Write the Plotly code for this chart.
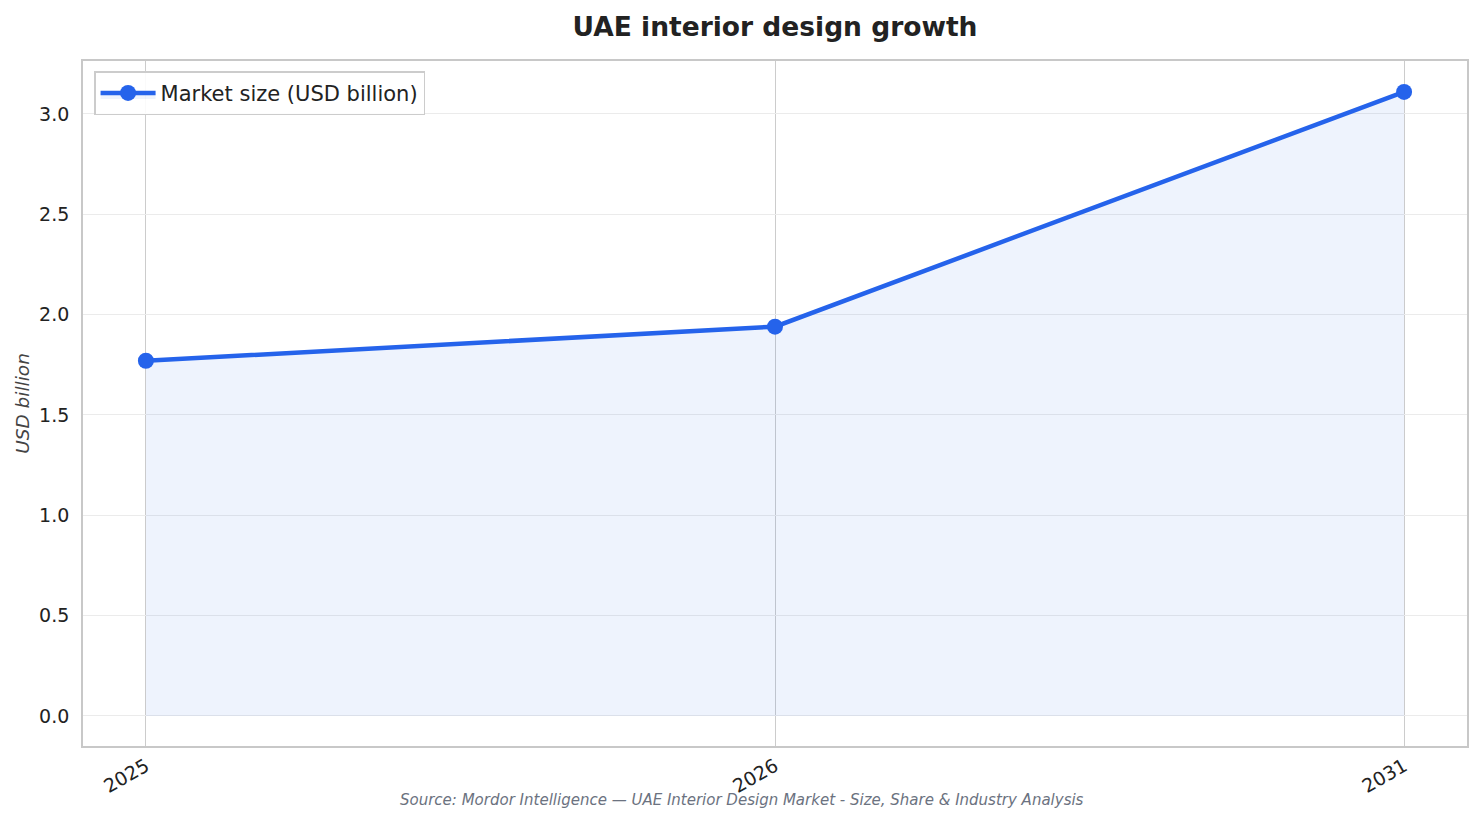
import plotly.graph_objects as go

# Market size data
years = ["2025", "2026", "2031"]
market_size = [1.77, 1.94, 3.11]
y_ticks = [0.0, 0.5, 1.0, 1.5, 2.0, 2.5, 3.0]

FONT = "DejaVu Sans"
BLUE = "#2563EB"

fig = go.Figure()
fig.add_trace(
    go.Scatter(
        x=years,
        y=market_size,
        name="Market size (USD billion)",
        mode="lines+markers",
        line=dict(color=BLUE, width=4.5),
        marker=dict(color=BLUE, size=16),
        fill="tozeroy",
        fillcolor="rgba(37,99,235,0.08)",
    )
)

# page body adds an 8px margin, so the figure is a bit smaller than the window
fig.update_layout(
    width=1466,
    height=808,
    paper_bgcolor="white",
    plot_bgcolor="white",
    margin=dict(l=75, r=5, t=53, b=70),
    font=dict(family=FONT, size=19, color="#222222"),
    title=dict(
        text="<b>UAE interior design growth</b>",
        x=0.5,
        xref="paper",
        xanchor="center",
        y=0.9765,
        yanchor="middle",
        font=dict(family=FONT, size=26.5, color="#222222"),
    ),
    showlegend=True,
    legend=dict(
        x=0.008,
        y=0.985,
        xanchor="left",
        yanchor="top",
        itemwidth=55,
        bgcolor="rgba(255,255,255,0.9)",
        bordercolor="#cccccc",
        borderwidth=1.5,
        font=dict(family=FONT, size=21, color="#222222"),
    ),
    annotations=[
        dict(
            text="<i>Source: Mordor Intelligence — UAE Interior Design Market - Size, Share &amp; Industry Analysis</i>",
            x=0.4758,
            y=-0.0788,
            xref="paper",
            yref="paper",
            xanchor="center",
            yanchor="middle",
            showarrow=False,
            font=dict(family=FONT, size=15, color="#6b7280"),
        )
    ],
)

fig.update_xaxes(
    type="category",
    range=[-0.1, 2.1],
    tickangle=-30,
    showgrid=True,
    gridcolor="#cccccc",
    gridwidth=1.2,
    showline=True,
    linecolor="#c8c8c8",
    linewidth=1.8,
    mirror=True,
    ticks="",
    tickfont=dict(family=FONT, size=19, color="#222222"),
)

fig.update_yaxes(
    range=[-0.15, 3.264],
    tickvals=y_ticks,
    ticktext=[f"{v:.1f}" for v in y_ticks],
    showgrid=True,
    gridcolor="#ebebeb",
    gridwidth=1.2,
    zeroline=False,
    showline=True,
    linecolor="#c8c8c8",
    linewidth=1.8,
    mirror=True,
    ticks="",
    ticklabelstandoff=8,
    tickfont=dict(family=FONT, size=19, color="#222222"),
    title=dict(
        text="<i>USD billion</i>",
        standoff=5,
        font=dict(family=FONT, size=18.5, color="#444444"),
    ),
)

fig.write_html("out.html")
